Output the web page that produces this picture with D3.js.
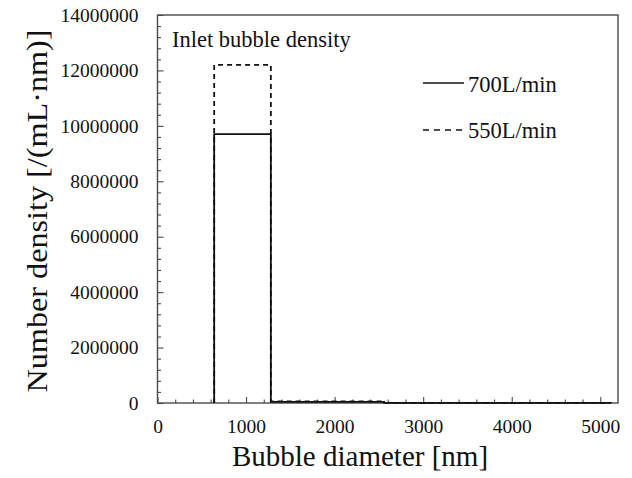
<!DOCTYPE html>
<html>
<head>
<meta charset="utf-8">
<script src="https://cdn.jsdelivr.net/npm/d3@7/dist/d3.min.js"></script>
<style>
  html, body { margin: 0; padding: 0; background: #fff; }
  svg text { font-family: "Liberation Serif", "Times New Roman", serif; fill: #111; }
</style>
</head>
<body>
<svg id="chart" width="632" height="478"></svg>
<script>
// Histogram bin edges (nm) and number density per bin for each flow rate
const binEdges = [640, 1280, 2560, 5120];
const density700 = [9700000, 40000, 2000];
const density550 = [12200000, 60000, 3000];

const xMajorTicks = [0, 1000, 2000, 3000, 4000, 5000];
const yMajorTicks = [0, 2000000, 4000000, 6000000, 8000000, 10000000, 12000000, 14000000];

const seriesNames = ["700L/min", "550L/min"];

const svg = d3.select("#chart");
const W = 632, H = 478;
const plot = { left: 157.5, right: 618, top: 15, bottom: 403 };

svg.append("rect").attr("width", W).attr("height", H).attr("fill", "#fff");

const x = d3.scaleLinear().domain([0, 5200]).range([plot.left, plot.right]);
const y = d3.scaleLinear().domain([0, 14000000]).range([plot.bottom, plot.top]);

const axisColor = "#4a4a4a";

// minor ticks
const xMinor = d3.range(0, 5200, 200).filter(v => v % 1000 !== 0);
const yMinor = d3.range(0, 14000000, 400000).filter(v => v % 2000000 !== 0);

const gxMinor = svg.append("g").attr("transform", `translate(0,${plot.bottom})`)
  .call(d3.axisBottom(x).tickValues(xMinor).tickSize(-3.5).tickFormat(""));
const gx = svg.append("g").attr("transform", `translate(0,${plot.bottom})`)
  .call(d3.axisBottom(x).tickValues(xMajorTicks).tickSize(-6).tickPadding(16).tickFormat(d3.format("d")));
const gyMinor = svg.append("g").attr("transform", `translate(${plot.left},0)`)
  .call(d3.axisLeft(y).tickValues(yMinor).tickSize(-3.5).tickFormat(""));
const gy = svg.append("g").attr("transform", `translate(${plot.left},0)`)
  .call(d3.axisLeft(y).tickValues(yMajorTicks).tickSize(-6).tickPadding(19).tickFormat(d3.format("d")));

[gxMinor, gx, gyMinor, gy].forEach(g => {
  g.select(".domain").remove();
  g.selectAll(".tick line").attr("stroke", axisColor).attr("stroke-width", 1.1);
  g.selectAll("text").attr("font-size", 19.5).attr("font-family", "Liberation Serif").attr("fill", "#111");
});

// plot frame
svg.append("rect")
  .attr("x", plot.left).attr("y", plot.top)
  .attr("width", plot.right - plot.left).attr("height", plot.bottom - plot.top)
  .attr("fill", "none").attr("stroke", axisColor).attr("stroke-width", 1.4);

// histogram outline as a step path
function stepPath(values) {
  const pts = [[binEdges[0], 0]];
  values.forEach((v, i) => {
    pts.push([binEdges[i], v]);
    pts.push([binEdges[i + 1], v]);
  });
  pts.push([binEdges[binEdges.length - 1], 0]);
  return d3.line().x(d => x(d[0])).y(d => y(d[1]))(pts);
}

svg.append("path").attr("d", stepPath(density550))
  .attr("fill", "none").attr("stroke", "#111").attr("stroke-width", 1.8)
  .attr("stroke-dasharray", "5,4");
svg.append("path").attr("d", stepPath(density700))
  .attr("fill", "none").attr("stroke", "#111").attr("stroke-width", 1.8);

// annotation
svg.append("text").attr("x", 172).attr("y", 47)
  .attr("font-size", 22.5).text("Inlet bubble density");

// legend
const legendLineY = [83, 130];
seriesNames.forEach((name, i) => {
  svg.append("line")
    .attr("x1", 423).attr("x2", 464).attr("y1", legendLineY[i]).attr("y2", legendLineY[i])
    .attr("stroke", "#111").attr("stroke-width", 1.5)
    .attr("stroke-dasharray", i === 1 ? "6,5" : null);
  svg.append("text").attr("x", 468).attr("y", legendLineY[i] + (i === 0 ? 9 : 7.5))
    .attr("font-size", 22.5).text(name);
});

// axis titles
svg.append("text").attr("x", 360).attr("y", 466)
  .attr("text-anchor", "middle").attr("font-size", 29).text("Bubble diameter [nm]");
svg.append("text")
  .attr("transform", `translate(47,211) rotate(-90)`)
  .attr("text-anchor", "middle").attr("font-size", 29)
  .attr("textLength", 363).attr("lengthAdjust", "spacingAndGlyphs")
  .text("Number density [/(mL·nm)]");
</script>
</body>
</html>
